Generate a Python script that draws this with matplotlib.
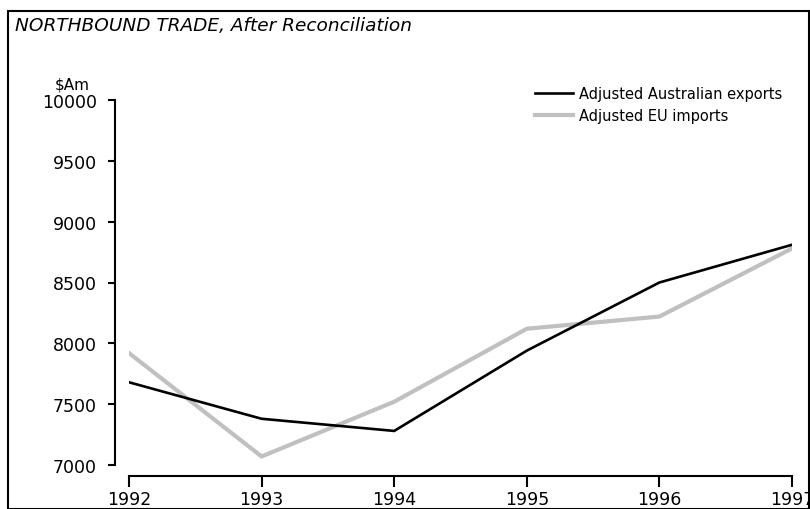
import matplotlib.pyplot as plt
from matplotlib.patches import Rectangle

years = [1992, 1993, 1994, 1995, 1996, 1997]
aus_exports = [7680, 7380, 7280, 7940, 8500, 8810]
eu_imports = [7920, 7070, 7520, 8120, 8220, 8780]
yticks = [7000, 7500, 8000, 8500, 9000, 9500, 10000]

plt.rcParams['font.family'] = ['DejaVu Sans']

W, H = 810, 510
fig = plt.figure(figsize=(8.1, 5.1), dpi=100)

# axes placed so that data limits hit the reference pixels
x0, x1 = 129, 792
y_top, y_bot = 101, 466
ax = fig.add_axes([x0 / W, 1 - y_bot / H, (x1 - x0) / W, (y_bot - y_top) / H])

ax.plot(years, eu_imports, color='#c0c0c0', lw=3.0, label='Adjusted EU imports', solid_joinstyle='miter')
ax.plot(years, aus_exports, color='black', lw=1.9, label='Adjusted Australian exports', solid_joinstyle='miter')

ax.set_xlim(1992, 1997)
ax.set_ylim(7000, 10000)
ax.set_xticks(years)
ax.set_yticks(yticks)
ax.tick_params(axis='both', labelsize=12.5, width=1.5, color='black')
ax.tick_params(axis='y', length=5, pad=8)
ax.tick_params(axis='x', length=8, pad=2)

for s in ['top', 'right']:
    ax.spines[s].set_visible(False)
ax.spines['left'].set_position(('outward', 10))
ax.spines['bottom'].set_position(('outward', 8))
ax.spines['left'].set_bounds(7000, 10000)
ax.spines['bottom'].set_bounds(1992, 1997)
ax.spines['left'].set_linewidth(1.5)
ax.spines['bottom'].set_linewidth(1.5)

h, l = ax.get_legend_handles_labels()
fig.legend(h[::-1], l[::-1], loc='upper left', bbox_to_anchor=(535 / W, 1 - 87 / H), frameon=False,
           fontsize=10.5, handlelength=2.6, handletextpad=0.45, labelspacing=0.5,
           borderpad=0, borderaxespad=0)

fig.text(72 / W, 1 - 85 / H, '$Am', fontsize=11, va='center', ha='center')
fig.text(15 / W, 1 - 26 / H, 'NORTHBOUND TRADE, After Reconciliation', fontsize=13.3,
         style='italic', va='center', ha='left')

fig.patches.append(Rectangle((8 / W, 0.5 / H), (W - 9) / W, (H - 12.5) / H, transform=fig.transFigure,
                             fill=False, edgecolor='black', lw=1.5))

fig.savefig('out.png', dpi=100)
